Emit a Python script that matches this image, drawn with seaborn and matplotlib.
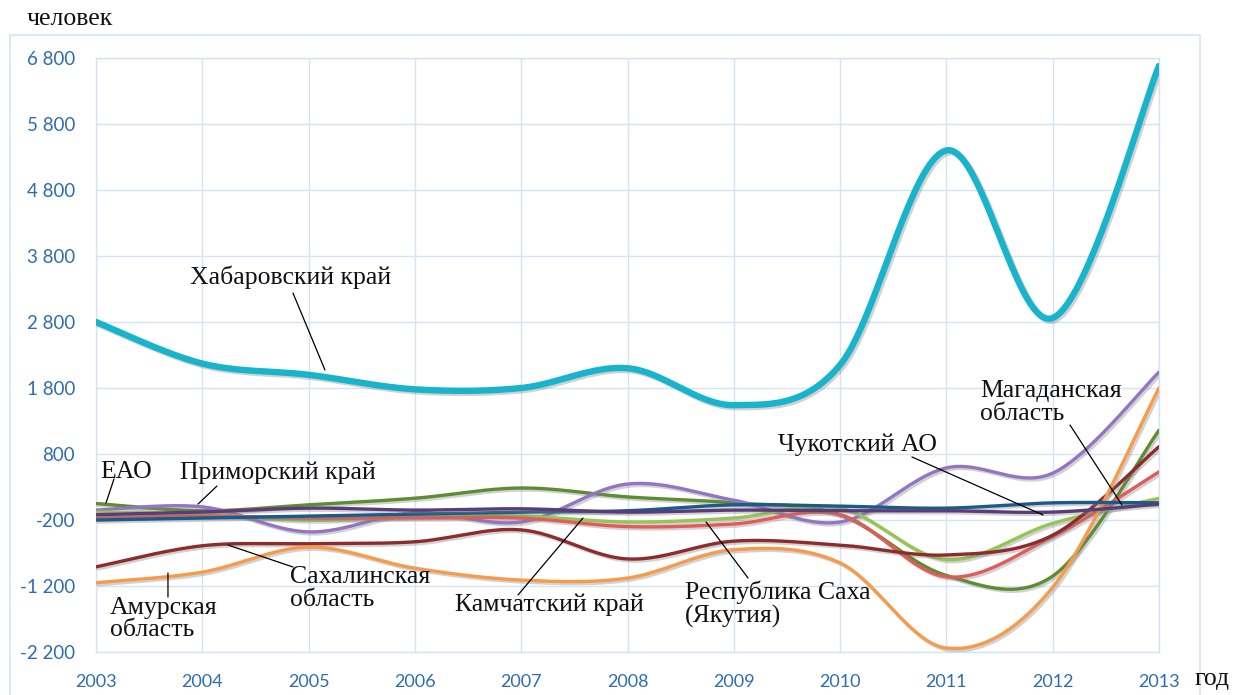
import numpy as np
import pandas as pd
import matplotlib
matplotlib.use("Agg")
import matplotlib.pyplot as plt
import matplotlib.patheffects as pe
from matplotlib.patches import Rectangle
from matplotlib.ticker import FixedLocator, FuncFormatter
import seaborn as sns

# Net migration by region of the Far East, persons
years = [2003, 2004, 2005, 2006, 2007, 2008, 2009, 2010, 2011, 2012, 2013]

khabarovsk = [2800, 2170, 2000, 1780, 1800, 2100, 1540, 2150, 5400, 2860, 6680]
amur = [-1150, -990, -610, -930, -1110, -1080, -650, -850, -2140, -1220, 1800]
sakhalin = [-910, -590, -560, -530, -350, -790, -520, -580, -730, -430, 910]
eao = [50, -60, 30, 130, 285, 150, 60, -120, -1040, -1050, 1160]
primorsky = [-50, 0, -380, -90, -230, 345, 100, -230, 590, 510, 2040]
kamchatka = [-80, -110, -200, -150, -140, -230, -170, -20, -800, -250, 130]
sakha = [-170, -140, -170, -170, -170, -300, -260, -120, -1060, -450, 530]
magadan = [-200, -170, -140, -110, -80, -60, 30, 10, -20, 60, 60]
chukotka = [-120, -80, -20, -50, -30, -80, -50, -60, -60, -80, 40]

y_ticks = [-2200, -1200, -200, 800, 1800, 2800, 3800, 4800, 5800, 6800]

series = [
    ("ЕАО", eao, "#5E8C31", 2.4),
    ("Приморский край", primorsky, "#9474C4", 2.4),
    ("Камчатский край", kamchatka, "#95C555", 2.4),
    ("Республика Саха (Якутия)", sakha, "#E35B58", 2.4),
    ("Сахалинская область", sakhalin, "#8E2B2B", 2.4),
    ("Амурская область", amur, "#F79A4A", 2.4),
    ("Магаданская область", magadan, "#1B5A8A", 2.4),
    ("Чукотский АО", chukotka, "#5A3C78", 2.4),
    ("Хабаровский край", khabarovsk, "#18B4CC", 4.6),
]


def smooth_curve(xs, ys, steps=40):
    """Bezier smoothing in the style of spreadsheet 'smoothed lines'."""
    p = np.column_stack([xs, ys]).astype(float)
    ext = np.vstack([p[0], p, p[-1]])
    out = []
    t = np.linspace(0, 1, steps)[:, None]
    for i in range(len(p) - 1):
        p0, p1, p2, p3 = ext[i], ext[i + 1], ext[i + 2], ext[i + 3]
        c1 = p1 + (p2 - p0) / 6.0
        c2 = p2 - (p3 - p1) / 6.0
        seg = ((1 - t) ** 3) * p1 + 3 * ((1 - t) ** 2) * t * c1 \
            + 3 * (1 - t) * t ** 2 * c2 + t ** 3 * p2
        out.append(seg if i == 0 else seg[1:])
    out = np.vstack(out)
    return out[:, 0], out[:, 1]


frames = []
for name, vals, _, _ in series:
    sx, sy = smooth_curve(years, vals)
    frames.append(pd.DataFrame({"region": name, "year": sx, "value": sy}))
df = pd.concat(frames, ignore_index=True)

sns.set_theme(style="white")
plt.rcParams["font.family"] = ["Liberation Serif", "DejaVu Serif"]

W, H = 1235, 695
fig = plt.figure(figsize=(W / 100, H / 100), dpi=100)
ax = fig.add_axes([96 / W, 1 - 652 / H, (1159 - 96) / W, (652 - 58) / H])

grid_c = "#D5E4F3"
for name, _, color, lw in series:
    sub = df[df["region"] == name]
    sns.lineplot(data=sub, x="year", y="value", ax=ax, color=color,
                 linewidth=lw, sort=False, estimator=None, legend=False,
                 solid_capstyle="round", zorder=3,
                 path_effects=[pe.SimpleLineShadow(offset=(1.5, -1.5),
                                                   shadow_color="#808080",
                                                   alpha=0.35),
                               pe.Normal()])

ax.set_xlim(2003, 2013)
ax.set_ylim(-2200, 6800)
ax.xaxis.set_major_locator(FixedLocator(years))
ax.yaxis.set_major_locator(FixedLocator(y_ticks))
ax.yaxis.set_major_formatter(FuncFormatter(
    lambda v, _: f"{int(v):,}".replace(",", " ")))
ax.grid(True, color=grid_c, linewidth=1.0)
for s in ax.spines.values():
    s.set_color(grid_c)
    s.set_linewidth(1.0)
ax.set_xlabel("")
ax.set_ylabel("")
ax.tick_params(axis="both", length=0, labelcolor="#2D6DB3")
ax.tick_params(axis="y", pad=15, labelsize=13.5)
ax.tick_params(axis="x", pad=16, labelsize=13)
for lab in ax.get_xticklabels() + ax.get_yticklabels():
    lab.set_fontfamily(["Lato", "DejaVu Sans"])

# Outer chart frame
fig.patches.append(Rectangle((10 / W, -0.05), (1200 - 10) / W, 1 - 35 / H + 0.05,
                             transform=fig.transFigure, fill=False,
                             edgecolor=grid_c, linewidth=1.2, zorder=0))

# Region labels with leader lines
label_fs = 18.5
labels = [
    ("Хабаровский край", (2003.884, 3482), "center", (2004.853, 3239), (2005.154, 2073)),
    ("ЕАО", (2003.038, 527), "center", (2003.169, 421), (2003.094, 58)),
    ("Приморский край", (2003.790, 512), "center", (2004.138, 315), (2003.960, 42)),
    ("Сахалинская\nобласть", (2004.825, -900), "top", (2004.853, -912), (2004.242, -579)),
    ("Амурская\nобласть", (2003.132, -1360), "top", (2003.677, -1367), (2003.677, -1003)),
    ("Камчатский край", (2006.377, -1320), "top", (2006.970, -1336), (2007.581, -170)),
    ("Республика Саха\n(Якутия)", (2008.541, -1110), "top", (2009.134, -1079), (2008.739, -230)),
    ("Чукотский АО", (2009.416, 936), "center", (2010.676, 755), (2011.909, -124)),
    ("Магаданская\nобласть", (2011.316, 1920), "top", (2012.163, 1239), (2012.652, 27)),
]
for text, pos, va, start, end in labels:
    ax.annotate("", xy=end, xytext=start,
                arrowprops=dict(arrowstyle="-", color="black", lw=0.9,
                                shrinkA=0, shrinkB=0), zorder=5)
    ax.text(pos[0], pos[1], text, ha="left", va=va, fontsize=label_fs,
            color="#111111", linespacing=1.05, zorder=6)

fig.text(27 / W, 1 - 19 / H, "человек", ha="left", va="center",
         fontsize=label_fs, color="#111111")
fig.text(1195 / W, 1 - 679 / H, "год", ha="left", va="center",
         fontsize=label_fs, color="#111111")

fig.savefig("out.png", dpi=100, facecolor="white")
